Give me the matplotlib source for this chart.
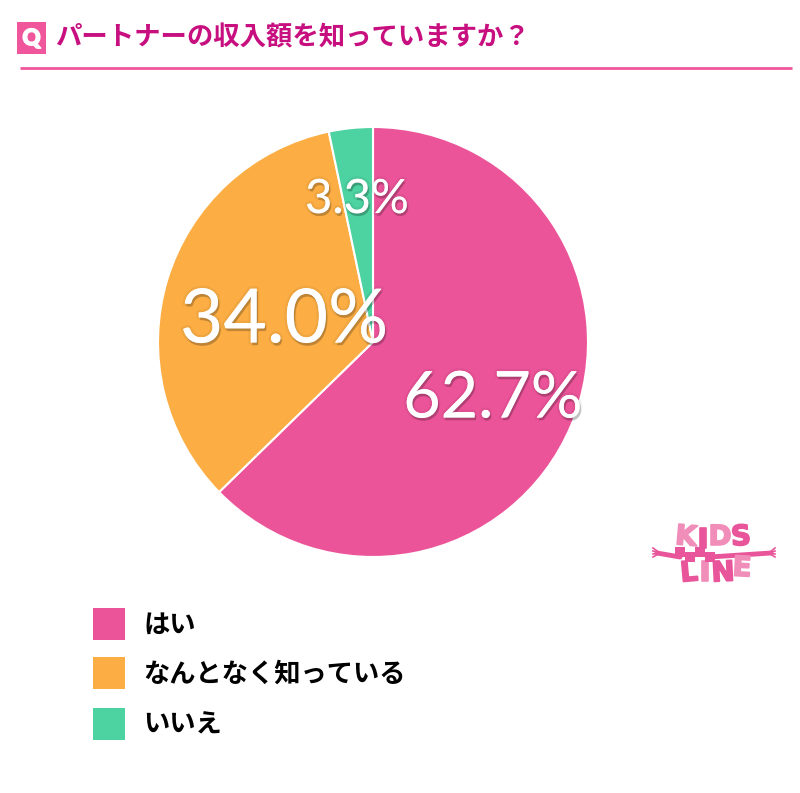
#!/usr/bin/env python
# coding=utf-8

import matplotlib
matplotlib.use("Agg")
import matplotlib.pyplot as plt
import matplotlib.patheffects as pe
from matplotlib.patches import Rectangle

plt.rcParams['font.family'] = ['Noto Sans CJK JP', 'DejaVu Sans']

title = "パートナーの収入額を知っていますか？"
categories = ["はい", "なんとなく知っている", "いいえ"]
values = [62.7, 34.0, 3.3]
pct_labels = ["62.7%", "34.0%", "3.3%"]
colors = ["#EC5499", "#FCAE44", "#4DD2A1"]

W, H = 800, 793
fig = plt.figure(figsize=(W / 100, H / 100), dpi=100, facecolor='w')

# overlay in pixel coords, same as the picture
bg = fig.add_axes([0, 0, 1, 1])
bg.set_xlim(0, W)
bg.set_ylim(H, 0)
bg.axis('off')

# header
bg.add_patch(Rectangle((17, 22), 29, 32, fc="#F0569B", ec='none'))
bg.text(31.5, 38.5, "Q", color='w', fontsize=16, fontweight='black', ha='center', va='center', family='Lato',
        path_effects=[pe.withStroke(linewidth=1.2, foreground='w')])
bg.text(55, 38, title, color="#C70F7F", fontsize=19, fontweight='bold', ha='left', va='center')
bg.plot([20, 792], [67.5, 67.5], color="#F0569B", lw=2.0, solid_capstyle='butt')

# pie
cx, cy, r = 373, 342, 215
ax = fig.add_axes([(cx - r) / W, (H - cy - r) / H, 2 * r / W, 2 * r / H])
ax.pie(values, colors=colors, startangle=90, counterclock=False, radius=1,
       wedgeprops={'edgecolor': 'w', 'linewidth': 1.5})
ax.set_xlim(-1, 1)
ax.set_ylim(-1, 1)

# labels are on top of the pie
top = fig.add_axes([0, 0, 1, 1], facecolor='none')
top.set_xlim(0, W)
top.set_ylim(H, 0)
top.axis('off')

label_pos = [(493, 399, 46.5), (284, 321, 54), (357, 200, 34)]
for lab, (x, y, fs) in zip(pct_labels, label_pos):
    shadow = [pe.withStroke(linewidth=3.5, foreground='k', alpha=0.05),
              pe.SimplePatchShadow(offset=(1, -2), shadow_rgbFace='k', alpha=0.2),
              pe.Normal()]
    top.text(x, y, lab, color='w', fontsize=fs, ha='center', va='center', family='Lato',
             path_effects=shadow)

# legend
leg_y = [624, 673, 724]
for name, col, y in zip(categories, colors, leg_y):
    top.add_patch(Rectangle((93, y - 16), 32, 32, fc=col, ec='none'))
    top.text(143, y + 1, name, color='k', fontsize=18.9, fontweight='bold', ha='left', va='center')

# logo
pink1 = "#E8559A"
pink2 = "#F08DB9"
top.plot([657, 680], [553, 557], color=pink1, lw=3.5, solid_capstyle='round')
top.plot([710, 771], [557, 553], color=pink1, lw=3.5, solid_capstyle='round')
for yy in [549, 552, 555, 558]:
    top.plot([653, 660], [yy - 1, 553], color=pink1, lw=1.2)
    top.plot([769, 775], [553, yy - 1], color=pink1, lw=1.2)
kids = [("K", 686, 537, pink2, -5), ("I", 703, 540, pink1, 0), ("D", 720, 537, pink2, 0), ("S", 741, 537, pink1, 3)]
line = [("L", 689, 573, pink1, 5), ("I", 705, 573, pink2, 0), ("N", 723, 573, pink1, 3), ("E", 742, 568, pink2, -3)]
for ch, x, y, col, rot in kids + line:
    top.text(x, y, ch, color=col, fontsize=20, fontweight='bold', ha='center', va='center',
             rotation=rot, family='Liberation Sans Narrow',
             path_effects=[pe.withStroke(linewidth=1.2, foreground=col)])
# small checks in the middle of the logo
for x, y in [(680, 552), (690, 557), (700, 552), (710, 557)]:
    top.add_patch(Rectangle((x - 5, y - 5), 10, 10, fc=pink1, ec='none', zorder=5))

plt.savefig("out.png", dpi=100)
